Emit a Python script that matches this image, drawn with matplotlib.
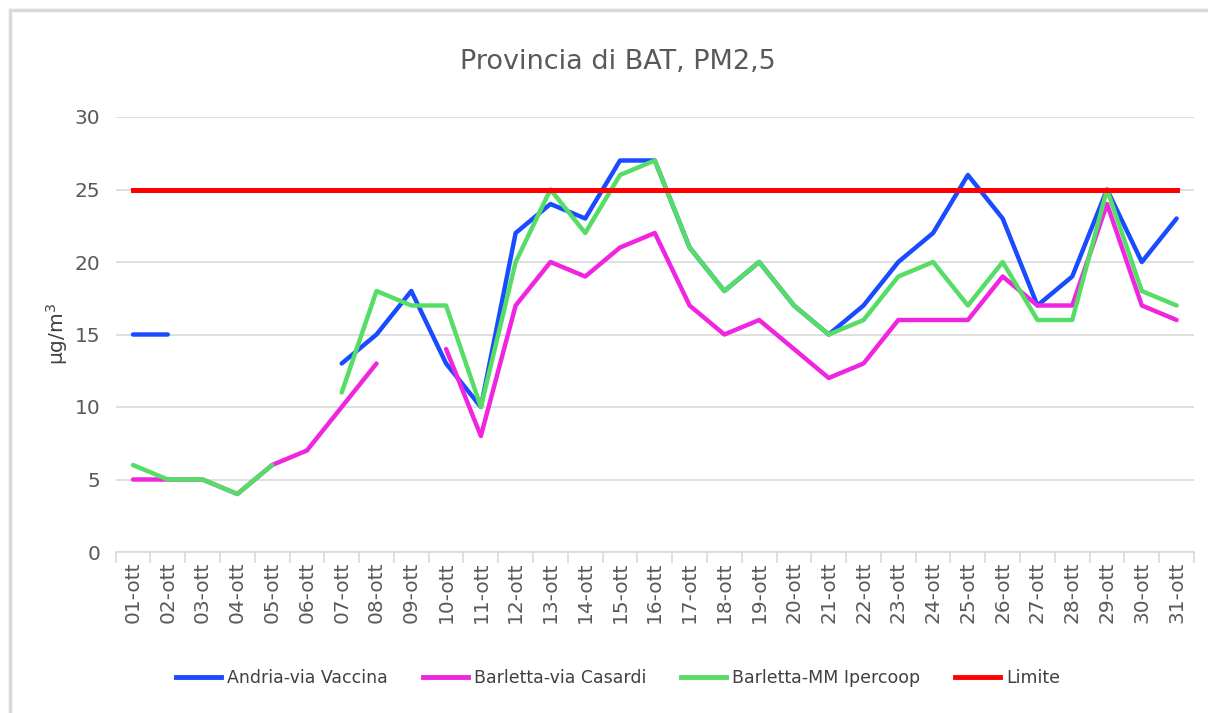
import numpy as np
import matplotlib
matplotlib.use("Agg")
import matplotlib.pyplot as plt
from matplotlib.patches import Rectangle

nan = np.nan
days = [f"{d:02d}-ott" for d in range(1, 32)]

andria = [15, 15, nan, nan, nan, nan, 13, 15, 18, 13, 10, 22, 24, 23, 27, 27,
          21, 18, 20, 17, 15, 17, 20, 22, 26, 23, 17, 19, 25, 20, 23]
casardi = [5, 5, 5, 4, 6, 7, 10, 13, nan, 14, 8, 17, 20, 19, 21, 22,
           17, 15, 16, 14, 12, 13, 16, 16, 16, 19, 17, 17, 24, 17, 16]
ipercoop = [6, 5, 5, 4, 6, nan, 11, 18, 17, 17, 10, 20, 25, 22, 26, 27,
            21, 18, 20, 17, 15, 16, 19, 20, 17, 20, 16, 16, 25, 18, 17]
limite = [25] * 31

series_names = ["Andria-via Vaccina", "Barletta-via Casardi", "Barletta-MM Ipercoop", "Limite"]
colors = ["#1a4cff", "#f025e0", "#55dd66", "#ff0000"]

plt.rcParams['font.family'] = ['DejaVu Sans']

fig = plt.figure(figsize=(12.08, 7.13), dpi=100)
fig.patches.append(Rectangle((10/1208, -0.1), 1.2, 1 - 10/713 + 0.1, transform=fig.transFigure,
                             fill=False, edgecolor="#d9d9d9", linewidth=2.5, zorder=0))

ax = fig.add_axes([115.6/1208, 1 - 552/713, (1194 - 115.6)/1208, (552 - 117)/713])
x = np.arange(len(days))
ax.plot(x, andria, color=colors[0], lw=3.2, solid_capstyle='round', zorder=3)
ax.plot(x, casardi, color=colors[1], lw=3.2, solid_capstyle='round', zorder=4)
ax.plot(x, ipercoop, color=colors[2], lw=3.2, solid_capstyle='round', zorder=5)
ax.plot(x, limite, color=colors[3], lw=3.6, zorder=6)

ax.set_xlim(-0.5, len(days) - 0.5)
ax.set_ylim(0, 30)
ax.set_yticks([0, 5, 10, 15, 20, 25, 30])
ax.yaxis.grid(True, color="#d9d9d9", lw=1.2)
ax.set_axisbelow(True)
for s in ["top", "right", "left"]:
    ax.spines[s].set_visible(False)
ax.spines["bottom"].set_color("#d9d9d9")
ax.spines["bottom"].set_linewidth(1.2)

ax.set_xticks(x)
ax.set_xticklabels(days, rotation=90, fontsize=14.5, color="#595959")
ax.tick_params(axis='x', which='major', length=0, pad=7)
ax.set_xticks(np.arange(-0.5, len(days)), minor=True)
ax.tick_params(axis='x', which='minor', length=8, color="#d9d9d9", width=1.2)
ax.tick_params(axis='y', length=0, pad=11, labelsize=14.5, labelcolor="#595959")

ax.set_ylabel("µg/m$^3$", fontsize=14.5, color="#404040", labelpad=3)
fig.text(618/1208, 1 - 62/713, "Provincia di BAT, PM2,5", ha="center", va="center",
         fontsize=19.5, color="#595959")

handles = [plt.Line2D([], [], color=c, lw=3.5) for c in colors]
leg = fig.legend(handles, series_names, loc="center", bbox_to_anchor=(618/1208, 1 - 678/713),
                 ncol=4, frameon=False, handlelength=2.6, columnspacing=2.0,
                 handletextpad=0.35, prop=dict(size=12.5))
for t in leg.get_texts():
    t.set_color("#404040")

fig.savefig("out.png", dpi=100)
